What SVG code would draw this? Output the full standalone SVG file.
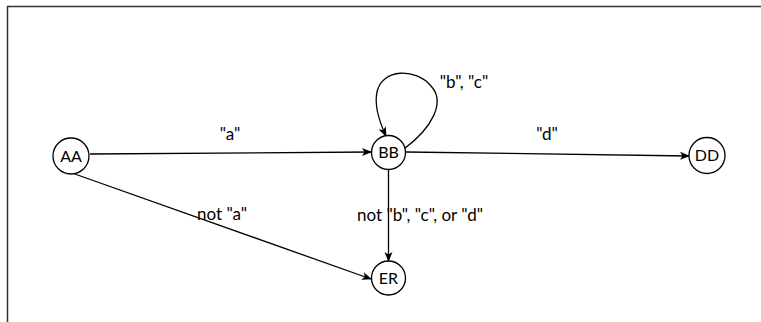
<svg xmlns="http://www.w3.org/2000/svg" width="761" height="322" viewBox="0 0 761 322">
<defs>
<style>
.node circle{fill:#fff;stroke:#000;stroke-width:1.3}
.node text{font-family:Lato,"Liberation Sans",sans-serif;font-size:16px;fill:#000;text-anchor:middle}
.edge{fill:none;stroke:#000;stroke-width:1.3}
.lbl{font-family:Lato,"Liberation Sans",sans-serif;font-size:17px;fill:#000;text-anchor:middle}
</style>
<marker id="arr" viewBox="0 0 10 10" refX="9" refY="5" markerWidth="10" markerHeight="10" markerUnits="userSpaceOnUse" orient="auto">
<path d="M0,1 L10,5 L0,9 L2.5,5 Z" fill="#000"/>
</marker>
</defs>
<rect width="761" height="322" fill="#fff"/>
<path d="M7.5,322 V6.5 H761" fill="none" stroke="#333" stroke-width="1.5"/>
<g id="connectors">
<path class="edge" d="M90,154 L371,152" marker-end="url(#arr)"/>
<path class="edge" d="M406,152 L689,156" marker-end="url(#arr)"/>
<path class="edge" d="M72,173 L371,279" marker-end="url(#arr)"/>
<path class="edge" d="M388.5,169 L388.5,261" marker-end="url(#arr)"/>
<path class="edge" d="M404,149 C432,128 446,102 431,86 C416,68 382,68 377,92 C374,106 379,121 386,136" marker-end="url(#arr)"/>
<text class="lbl" x="230" y="140">"a"</text>
<text class="lbl" x="222" y="220">not "a"</text>
<text class="lbl" x="547" y="140">"d"</text>
<text class="lbl" x="464" y="88">"b", "c"</text>
<text class="lbl" x="420" y="221">not "b", "c", or "d"</text>
</g>
<g id="AA" class="node"><circle cx="71" cy="156" r="18"/><text x="71" y="161.5">AA</text></g>
<g id="BB" class="node"><circle cx="388.5" cy="152.5" r="17"/><text x="388.5" y="158">BB</text></g>
<g id="DD" class="node"><circle cx="707" cy="155.5" r="18"/><text x="707" y="161">DD</text></g>
<g id="ER" class="node"><circle cx="388.5" cy="278" r="17"/><text x="388.5" y="283.5">ER</text></g>
</svg>
